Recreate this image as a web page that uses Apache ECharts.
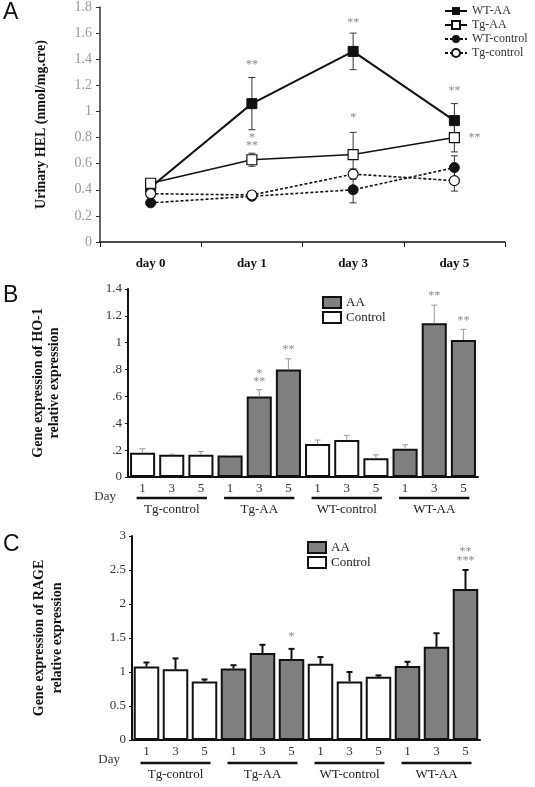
<!DOCTYPE html>
<html><head><meta charset="utf-8">
<script src="https://cdn.jsdelivr.net/npm/echarts@6/dist/echarts.min.js"></script>
<style>html,body{margin:0;padding:0;background:#fff}#c{width:535px;height:787px}</style>
</head><body><div id="c"></div>
<script>
const SERIF = 'Liberation Serif';
// ---------- Panel A data ----------
const dayCats = ['day 0', 'day 1', 'day 3', 'day 5'];
const seriesNamesA = ['WT-AA', 'Tg-AA', 'WT-control', 'Tg-control'];
const wtAA = [0.42, 1.06, 1.46, 0.93];
const wtAAErr = [0.02, 0.20, 0.14, 0.13];
const tgAA = [0.45, 0.63, 0.67, 0.80];
const tgAAErr = [0.03, 0.05, 0.17, 0.11];
const wtCtrl = [0.30, 0.35, 0.40, 0.57];
const wtCtrlErr = [0.01, 0.02, 0.10, 0.09];
const tgCtrl = [0.37, 0.36, 0.52, 0.47];
const tgCtrlErr = [0.01, 0.02, 0.04, 0.08];
const starsA = [[1, 1.36, '**'], [1, 0.80, '*'], [1, 0.74, '**'], [2, 1.68, '**'], [2, 0.95, '*'], [3, 1.16, '**']];
const starsASide = [[3, 0.80, '**']];

// ---------- Panels B / C data ----------
const groups = ['Tg-control', 'Tg-AA', 'WT-control', 'WT-AA'];
const groupIsAA = [false, true, false, true];
const days = ['1', '3', '5'];
const ho1 = [0.18, 0.165, 0.165, 0.16, 0.60, 0.80, 0.245, 0.275, 0.14, 0.21, 1.145, 1.02];
const ho1Err = [0.03, 0.005, 0.025, 0.0, 0.05, 0.08, 0.03, 0.035, 0.025, 0.03, 0.135, 0.08];
const starsB = [[4, 0.77, '*'], [4, 0.71, '**'], [5, 0.95, '**'], [10, 1.35, '**'], [11, 1.16, '**']];
const rage = [1.08, 1.04, 0.86, 1.05, 1.28, 1.19, 1.12, 0.86, 0.93, 1.09, 1.37, 2.22];
const rageErr = [0.06, 0.16, 0.03, 0.05, 0.12, 0.15, 0.10, 0.14, 0.02, 0.06, 0.20, 0.28];
const starsC = [[5, 1.52, '*'], [11, 2.76, '**'], [11, 2.63, '***']];

const barCats = groups.flatMap(g => days.map(d => g + '|' + d));

const chart = echarts.init(document.getElementById('c'), null, {renderer: 'canvas'});

function errRender(color, lw, twoSided, cap) {
  return function (params, api) {
    const x = api.value(0), v = api.value(1), e = api.value(2);
    const top = api.coord([x, v + e]);
    const bot = twoSided ? api.coord([x, v - e]) : api.coord([x, v]);
    const st = {stroke: color, lineWidth: lw};
    const ch = [{type: 'line', shape: {x1: top[0], y1: top[1], x2: bot[0], y2: bot[1]}, style: st},
      {type: 'line', shape: {x1: top[0] - cap, y1: top[1], x2: top[0] + cap, y2: top[1]}, style: st}];
    if (twoSided) ch.push({type: 'line', shape: {x1: bot[0] - cap, y1: bot[1], x2: bot[0] + cap, y2: bot[1]}, style: st});
    return {type: 'group', children: ch};
  };
}
function starRender(list, dx) {
  return function (params, api) {
    const p = api.coord([api.value(0), api.value(1)]);
    return {type: 'text', x: p[0] + (dx || 0), y: p[1],
      style: {text: list[params.dataIndex][2], fill: '#8a8a8a', font: '12px ' + SERIF, align: 'center', verticalAlign: 'middle'}};
  };
}
function groupRender(lineDy, textDy) {
  return function (params, api) {
    const i = params.dataIndex;
    const a = api.coord([i * 3, 0]);
    const b = api.coord([i * 3 + 2, 0]);
    return {type: 'group', children: [
      {type: 'line', shape: {x1: a[0] - 6, y1: a[1] + lineDy, x2: b[0] + 6, y2: b[1] + lineDy}, style: {stroke: '#111', lineWidth: 2.5}},
      {type: 'text', x: (a[0] + b[0]) / 2, y: a[1] + textDy,
        style: {text: groups[i], fill: '#222', font: '13px ' + SERIF, align: 'center', verticalAlign: 'middle'}}
    ]};
  };
}

const errA = [[wtAA, wtAAErr], [tgAA, tgAAErr], [wtCtrl, wtCtrlErr], [tgCtrl, tgCtrlErr]];

function barSplit(vals, aa) {
  return vals.map((v, i) => (groupIsAA[Math.floor(i / 3)] === aa ? v : '-'));
}

function fmtB(v) {
  if (v === 0) return '0';
  const s = String(Math.round(v * 10) / 10);
  return s.startsWith('0.') ? s.slice(1) : s;
}

const axisLineBlack = {lineStyle: {color: '#111', width: 1.5}};

const option = {
  animation: false,
  backgroundColor: '#fff',
  title: [
    {text: 'A', left: 3, top: 1, padding: 0, textStyle: {fontFamily: 'Liberation Sans', fontSize: 23, fontWeight: 'normal', color: '#111'}},
    {text: 'B', left: 3, top: 284, padding: 0, textStyle: {fontFamily: 'Liberation Sans', fontSize: 23, fontWeight: 'normal', color: '#111'}},
    {text: 'C', left: 3, top: 533, padding: 0, textStyle: {fontFamily: 'Liberation Sans', fontSize: 23, fontWeight: 'normal', color: '#111'}}
  ],
  legend: [
    {data: seriesNamesA, orient: 'vertical', left: 444, top: 5, itemGap: 2, itemWidth: 22, itemHeight: 10, padding: 0,
      textStyle: {fontFamily: SERIF, fontSize: 12, color: '#333'}},
    {data: ['AA', 'Control'], orient: 'vertical', left: 322, top: 296, itemGap: 2, itemWidth: 18, itemHeight: 11, padding: 0,
      icon: 'rect', itemStyle: {borderColor: '#111', borderWidth: 2},
      textStyle: {fontFamily: SERIF, fontSize: 13, color: '#222'}},
    {data: ['AA ', 'Control '], orient: 'vertical', left: 307, top: 541, itemGap: 2, itemWidth: 18, itemHeight: 11, padding: 0,
      icon: 'rect', itemStyle: {borderColor: '#111', borderWidth: 2},
      textStyle: {fontFamily: SERIF, fontSize: 13, color: '#222'}}
  ],
  grid: [
    {left: 100, right: 30, top: 7, height: 235},
    {left: 128, right: 57, top: 289, height: 188},
    {left: 132, right: 55, top: 536, height: 204}
  ],
  xAxis: [
    {type: 'category', gridIndex: 0, data: dayCats, boundaryGap: true,
      axisLine: axisLineBlack, axisTick: {show: true, length: 5, lineStyle: {color: '#111'}},
      axisLabel: {fontFamily: SERIF, fontSize: 13, fontWeight: 'bold', color: '#111', margin: 15}},
    {type: 'category', gridIndex: 1, data: barCats, axisLine: {lineStyle: {color: '#111', width: 2}}, axisTick: {show: false},
      axisLabel: {fontFamily: SERIF, fontSize: 13, color: '#333', margin: 5, formatter: v => v.split('|')[1]},
      name: 'Day', nameLocation: 'start', nameGap: 12,
      nameTextStyle: {fontFamily: SERIF, fontSize: 13, color: '#333', verticalAlign: 'top', padding: [13, 0, 0, 0]}},
    {type: 'category', gridIndex: 2, data: barCats, axisLine: {lineStyle: {color: '#111', width: 2}}, axisTick: {show: false},
      axisLabel: {fontFamily: SERIF, fontSize: 13, color: '#333', margin: 5, formatter: v => v.split('|')[1]},
      name: 'Day', nameLocation: 'start', nameGap: 12,
      nameTextStyle: {fontFamily: SERIF, fontSize: 13, color: '#333', verticalAlign: 'top', padding: [13, 0, 0, 0]}}
  ],
  yAxis: [
    {type: 'value', gridIndex: 0, min: 0, max: 1.8, interval: 0.2, splitLine: {show: false},
      axisLine: {show: true, lineStyle: {color: '#333', width: 1.5}}, axisTick: {show: true, length: 4, lineStyle: {color: '#333'}},
      axisLabel: {fontFamily: SERIF, fontSize: 14, color: '#999', margin: 8},
      name: 'Urinary HEL (nmol/mg.cre)', nameLocation: 'middle', nameGap: 52,
      nameTextStyle: {fontFamily: SERIF, fontSize: 14, fontWeight: 'bold', color: '#111'}},
    {type: 'value', gridIndex: 1, min: 0, max: 1.4, interval: 0.2, splitLine: {show: false},
      axisLine: {show: true, lineStyle: {color: '#111', width: 2}}, axisTick: {show: true, length: 3, lineStyle: {color: '#111'}},
      axisLabel: {fontFamily: SERIF, fontSize: 13, color: '#333', margin: 6, formatter: fmtB},
      name: 'Gene expression of HO-1\nrelative expression', nameLocation: 'middle', nameGap: 66,
      nameTextStyle: {fontFamily: SERIF, fontSize: 14, fontWeight: 'bold', color: '#111', lineHeight: 16}},
    {type: 'value', gridIndex: 2, min: 0, max: 3, interval: 0.5, splitLine: {show: false},
      axisLine: {show: true, lineStyle: {color: '#111', width: 2}}, axisTick: {show: true, length: 3, lineStyle: {color: '#111'}},
      axisLabel: {fontFamily: SERIF, fontSize: 13, color: '#333', margin: 6},
      name: 'Gene expression of RAGE\nrelative expression', nameLocation: 'middle', nameGap: 66,
      nameTextStyle: {fontFamily: SERIF, fontSize: 14, fontWeight: 'bold', color: '#111', lineHeight: 18}}
  ],
  series: [
    // ---- A error bars ----
    ...errA.map(([v, e]) => ({type: 'custom', xAxisIndex: 0, yAxisIndex: 0, z: 1, silent: true,
      renderItem: errRender('#333', 1, true, 3.5), data: v.map((x, i) => [i, x, e[i]])})),
    {name: 'WT-AA', type: 'line', xAxisIndex: 0, yAxisIndex: 0, z: 3, data: wtAA, symbol: 'rect', symbolSize: 10,
      lineStyle: {color: '#111', width: 2}, itemStyle: {color: '#111', borderColor: '#111'}},
    {name: 'Tg-AA', type: 'line', xAxisIndex: 0, yAxisIndex: 0, z: 3, data: tgAA, symbol: 'rect', symbolSize: 10,
      lineStyle: {color: '#111', width: 1.6}, itemStyle: {color: '#fff', borderColor: '#111', borderWidth: 1.2}},
    {name: 'WT-control', type: 'line', xAxisIndex: 0, yAxisIndex: 0, z: 3, data: wtCtrl, symbol: 'circle', symbolSize: 10,
      lineStyle: {color: '#111', width: 1.6, type: [3, 2]}, itemStyle: {color: '#111', borderColor: '#111'}},
    {name: 'Tg-control', type: 'line', xAxisIndex: 0, yAxisIndex: 0, z: 3, data: tgCtrl, symbol: 'circle', symbolSize: 10,
      lineStyle: {color: '#111', width: 1.6, type: [3, 2]}, itemStyle: {color: '#fff', borderColor: '#111', borderWidth: 1.2}},
    {type: 'custom', xAxisIndex: 0, yAxisIndex: 0, z: 4, silent: true, renderItem: starRender(starsA, 0), data: starsA.map(s => [s[0], s[1]])},
    {type: 'custom', xAxisIndex: 0, yAxisIndex: 0, z: 4, silent: true, renderItem: starRender(starsASide, 20), data: starsASide.map(s => [s[0], s[1]])},

    // ---- B ----
    {name: 'AA', type: 'bar', xAxisIndex: 1, yAxisIndex: 1, data: barSplit(ho1, true), barGap: '-100%', barCategoryGap: '14%',
      itemStyle: {color: '#7f7f7f', borderColor: '#111', borderWidth: 2}},
    {name: 'Control', type: 'bar', xAxisIndex: 1, yAxisIndex: 1, data: barSplit(ho1, false), barGap: '-100%', barCategoryGap: '14%',
      itemStyle: {color: '#fff', borderColor: '#111', borderWidth: 2}},
    {type: 'custom', xAxisIndex: 1, yAxisIndex: 1, z: 3, silent: true, renderItem: errRender('#999', 1, false, 3),
      data: ho1.map((v, i) => [i, v, ho1Err[i]])},
    {type: 'custom', xAxisIndex: 1, yAxisIndex: 1, z: 4, silent: true, renderItem: starRender(starsB, 0), data: starsB.map(s => [s[0], s[1]])},
    {type: 'custom', xAxisIndex: 1, yAxisIndex: 1, z: 4, silent: true, clip: false, renderItem: groupRender(21, 33),
      data: groups.map((g, i) => [i * 3 + 1, 0])},

    // ---- C ----
    {name: 'AA ', type: 'bar', xAxisIndex: 2, yAxisIndex: 2, data: barSplit(rage, true), barGap: '-100%', barCategoryGap: '12%',
      itemStyle: {color: '#7f7f7f', borderColor: '#111', borderWidth: 2}},
    {name: 'Control ', type: 'bar', xAxisIndex: 2, yAxisIndex: 2, data: barSplit(rage, false), barGap: '-100%', barCategoryGap: '12%',
      itemStyle: {color: '#fff', borderColor: '#111', borderWidth: 2}},
    {type: 'custom', xAxisIndex: 2, yAxisIndex: 2, z: 3, silent: true, renderItem: errRender('#111', 2, false, 3),
      data: rage.map((v, i) => [i, v, rageErr[i]])},
    {type: 'custom', xAxisIndex: 2, yAxisIndex: 2, z: 4, silent: true, renderItem: starRender(starsC, 0), data: starsC.map(s => [s[0], s[1]])},
    {type: 'custom', xAxisIndex: 2, yAxisIndex: 2, z: 4, silent: true, clip: false, renderItem: groupRender(23, 35),
      data: groups.map((g, i) => [i * 3 + 1, 0])}
  ]
};
chart.setOption(option);
</script>
</body></html>
